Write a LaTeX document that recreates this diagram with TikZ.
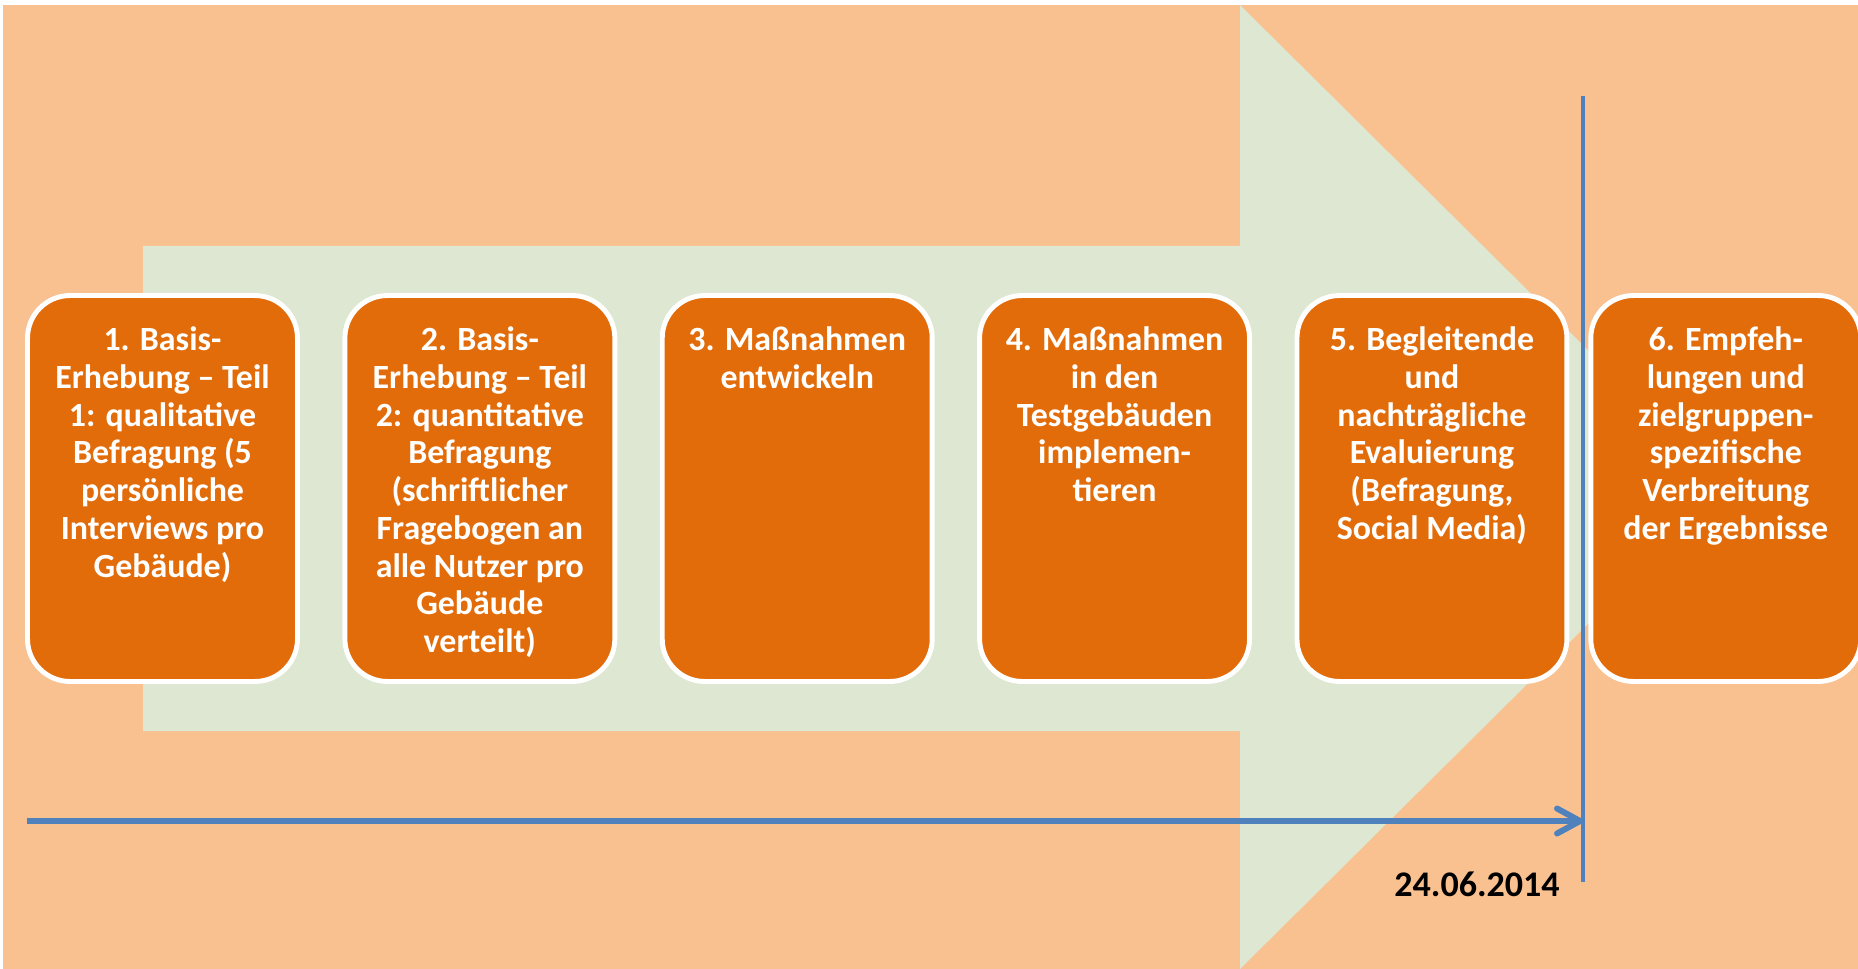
\documentclass[tikz,border=0pt]{standalone}
\usepackage{fontspec}
\setmainfont{Carlito}
\usepackage{tikz}
\usetikzlibrary{arrows.meta,positioning}
\definecolor{clrBack}{HTML}{F9C090}
\definecolor{clrArrow}{HTML}{DEE7D1}
\definecolor{clrStep}{HTML}{E36C0A}
\definecolor{clrLine}{HTML}{4F81BD}
\tikzstyle{stepbox}=[draw=white, line width=2.8pt, rounded corners=0.85cm, fill=clrStep,
text=white, inner sep=0pt, minimum width=5.4cm, minimum height=7.72cm,
font=\bfseries\fontsize{19.3}{21.5}\selectfont]
\tikzstyle{timeline}=[-{Straight Barb[length=4.6mm,width=5mm,round]}, line width=3.4pt, draw=clrLine]
\tikzstyle{marker}=[line width=2.8pt, draw=clrLine]
\tikzstyle{datetext}=[font=\bfseries\fontsize{20.5}{24}\selectfont, text=black, inner sep=0pt]
% text of a step, starting at the top of the box
\newcommand{\steptext}[1]{\parbox[c][6.58cm][t]{5.2cm}{\centering\strut #1}}

\begin{document}
\begin{tikzpicture}[x=0.02cm, y=-0.02cm]
		\useasboundingbox (0,0) rectangle (1858,969);
		\clip (0,0) rectangle (1858,969);

		% background and the big arrow behind the steps
		\fill[white] (0,0) rectangle (1858,969);
		\fill[clrBack] (3,5) rectangle (1858,969);
		\fill[clrArrow] (143,246) -- (1240,246) -- (1240,5) -- (1726,487) -- (1240,969) -- (1240,731) -- (143,731) -- cycle;

		\node[stepbox] (step1) at (162.5,488.5) {\steptext{1. Basis-\\Erhebung – Teil\\1: qualitative\\Befragung (5\\persönliche\\Interviews pro\\Gebäude)}} ;

		\node[stepbox, right=0.85cm of step1] (step2) {\steptext{2. Basis-\\Erhebung – Teil\\2: quantitative\\Befragung\\(schriftlicher\\Fragebogen an\\alle Nutzer pro\\Gebäude\\verteilt)}} ;

		\node[stepbox, right=0.85cm of step2] (step3) {\steptext{3. Maßnahmen\\entwickeln}} ;

		\node[stepbox, right=0.85cm of step3] (step4) {\steptext{4. Maßnahmen\\in den\\Testgebäuden\\implemen-\\tieren}} ;

		\node[stepbox, right=0.85cm of step4] (step5) {\steptext{5. Begleitende\\und\\nachträgliche\\Evaluierung\\(Befragung,\\Social Media)}} ;

		\node[stepbox, right=0.38cm of step5] (step6) {\steptext{6. Empfeh-\\lungen und\\zielgruppen-\\spezifische\\Verbreitung\\der Ergebnisse}} ;

		% time line up to the date marker
		\coordinate (markTop) at (1583,96) ;
		\coordinate (markBot) at (1583,882) ;
		\coordinate (lineStart) at (27,821) ;
		\coordinate (lineEnd) at (1583,821) ;
		\draw[marker] (markTop) -- (markBot) ;
		\draw[timeline] (lineStart) -- (lineEnd) ;
		\node[datetext, anchor=base east] (date) at (1560,896) {24.06.2014} ;
\end{tikzpicture}
\end{document}
